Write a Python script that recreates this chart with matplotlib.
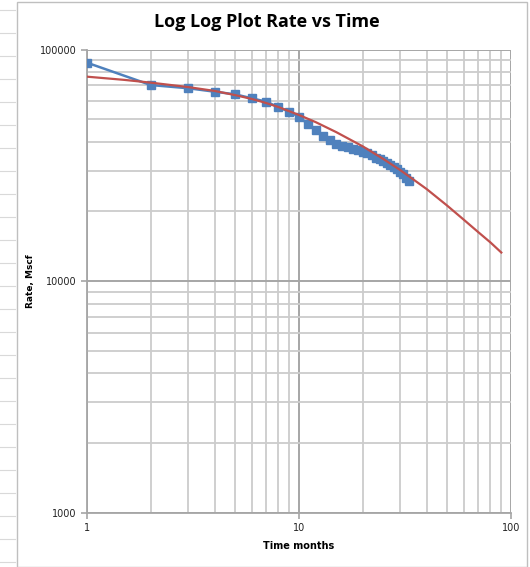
import matplotlib
matplotlib.use("Agg")
import matplotlib.pyplot as plt
from matplotlib.ticker import FixedLocator, NullFormatter, FixedFormatter
from matplotlib.lines import Line2D
from matplotlib.patches import Rectangle

# Observed production data (months, Mscf)
months = [1, 2, 3, 4, 5, 6, 7, 8, 9, 10, 11, 12, 13, 14, 15, 16, 17,
          18, 19, 20, 21, 22, 23, 24, 25, 26, 27, 28, 29, 30, 31, 32, 33]
rate = [87800, 70300, 68100, 65800, 64100, 61600, 59600, 56400, 53900, 51300,
        47700, 45000, 42400, 40700, 39200, 38400, 37900,
        37400, 36900, 36300, 35600, 34900, 34200, 33600, 32900, 32300,
        31600, 31000, 30400, 29600, 28900, 28000, 27100]

# Fitted decline curve
fit_months = [1, 1.5, 2, 3, 4, 5, 6, 7, 8, 10, 12, 15, 20, 25, 30, 35, 40, 50, 60, 70, 80, 90]
fit_rate = [76400, 74000, 72000, 68900, 66300, 63600, 61200, 58800, 56500, 52200,
            48600, 44000, 38200, 33700, 30200, 27300, 25000, 21200, 18400, 16300,
            14700, 13300]

x_ticks = [1, 10, 100]
x_labels = ["1", "10", "100"]
y_ticks = [1000, 10000, 100000]
y_labels = ["1000", "10000", "100000"]

fig = plt.figure(figsize=(5.30, 5.67), dpi=100)
W, H = 530, 567

# chart-area border and spreadsheet stub on the left
fig.add_artist(Rectangle((17 / W, 0), (W - 20) / W, 1 - 2 / H, transform=fig.transFigure,
                         fill=False, edgecolor="#bfbfbf", lw=1.0))
for yy in range(10, 567, 23):
    fig.add_artist(Line2D([0, 15 / W], [1 - yy / H, 1 - yy / H], transform=fig.transFigure,
                          color="#d9d9d9", lw=0.8))

L, R, T, B = 87, 511, 49.6, 512.8
ax = fig.add_axes([L / W, (H - B) / H, (R - L) / W, (B - T) / H])
ax.set_xscale("log")
ax.set_yscale("log")
ax.set_xlim(1, 100)
ax.set_ylim(1000, 100000)

ax.xaxis.set_major_locator(FixedLocator(x_ticks))
ax.xaxis.set_major_formatter(FixedFormatter(x_labels))
ax.yaxis.set_major_locator(FixedLocator(y_ticks))
ax.yaxis.set_major_formatter(FixedFormatter(y_labels))
ax.xaxis.set_minor_formatter(NullFormatter())
ax.yaxis.set_minor_formatter(NullFormatter())

ax.grid(True, which="both", color="#cccccc", lw=1.3)
ax.grid(True, which="major", color="#a6a6a6", lw=1.4)
ax.set_axisbelow(True)
for s in ["top", "right"]:
    ax.spines[s].set_visible(False)
for s in ["left", "bottom"]:
    ax.spines[s].set_color("#a6a6a6")
    ax.spines[s].set_linewidth(1.3)
ax.tick_params(which="major", length=4, color="#a6a6a6", width=1.2,
               labelsize=7, labelcolor="#222222")
ax.tick_params(which="minor", length=0)
ax.tick_params(axis="x", which="major", pad=3)

ax.plot(months, rate, color="#4F81BD", lw=1.8, marker="s", markersize=5.5,
        markeredgecolor="#4F81BD", markerfacecolor="#4F81BD", zorder=3)
ax.plot(fit_months, fit_rate, color="#C0504D", lw=1.6, zorder=4)

ax.set_xlabel("Time months", fontsize=7, fontweight="bold", labelpad=6)
ax.set_ylabel("Rate, Mscf", fontsize=6.5, fontweight="bold")
ax.yaxis.set_label_coords((35 - L) / (R - L), 0.5)

fig.text(267 / W, 1 - 22 / H, "Log Log Plot Rate vs Time", ha="center", va="center",
         fontsize=13, fontweight="bold", family="Open Sans")

fig.savefig("out.png", dpi=100)
